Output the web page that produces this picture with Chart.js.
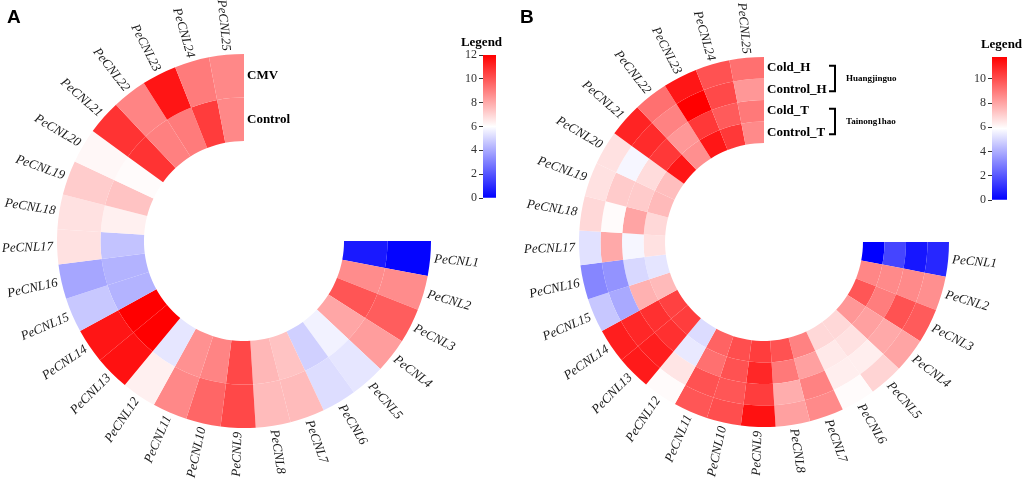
<!DOCTYPE html>
<html>
<head>
<meta charset="utf-8">
<script src="https://cdn.jsdelivr.net/npm/chart.js@4.4.1/dist/chart.umd.min.js"></script>
<style>
  html, body { margin: 0; padding: 0; background: #fff; }
  #wrap { position: relative; width: 1024px; height: 482px; overflow: hidden; }
  canvas { position: absolute; }
  .tag { position: absolute; font: bold 19px "Liberation Sans", Arial, sans-serif; color: #000; }
</style>
</head>
<body>
<div id="wrap">
  <canvas id="ringA" width="512" height="482" style="left:0;top:0;width:512px;height:482px"></canvas>
  <canvas id="ringB" width="512" height="482" style="left:512px;top:0;width:512px;height:482px"></canvas>
  <canvas id="barA" width="80" height="180" style="left:440px;top:30px;width:80px;height:180px"></canvas>
  <canvas id="barB" width="80" height="180" style="left:944px;top:30px;width:80px;height:180px"></canvas>
  <div class="tag" style="left:7px;top:6px">A</div>
  <div class="tag" style="left:520px;top:6px">B</div>
</div>
<script>
// genes around the ring, PeCNL1 at 3 o'clock going clockwise
const genes = ['PeCNL1', 'PeCNL2', 'PeCNL3', 'PeCNL4', 'PeCNL5', 'PeCNL6', 'PeCNL7', 'PeCNL8',
    'PeCNL9', 'PeCNL10', 'PeCNL11', 'PeCNL12', 'PeCNL13', 'PeCNL14', 'PeCNL15', 'PeCNL16',
    'PeCNL17', 'PeCNL18', 'PeCNL19', 'PeCNL20', 'PeCNL21', 'PeCNL22', 'PeCNL23', 'PeCNL24', 'PeCNL25'];

// panel A (outer ring first)
const cmv = [0.1, 8.7, 9.8, 8.3, 5.4, 5.2, 7.6, 7.6, 10.3, 9.6, 8.8, 6.35, 11.6,
    11.5, 4.7, 3.9, 6.7, 6.7, 7.2, 6.2, 10.8, 8.9, 11.5, 9.1, 8.8];
const controlA = [0.6, 8.7, 10.0, 8.1, 5.7, 4.9, 7.4, 7.7, 10.3, 8.9, 8.6, 5.4, 12.0,
    12.0, 4.2, 4.2, 4.6, 6.35, 7.4, 6.1, 10.8, 9.0, 9.1, 10.6, 8.8];

// panel B (outer ring first)
const coldH = [0.9, 8.5, 9.7, 8.0, 6.9, 6.0, 8.6, 8.1, 11.4, 10.0, 9.8, 6.0, 11.2,
    11.1, 4.6, 3.1, 5.2, 6.8, 6.6, 6.6, 11.0, 9.2, 11.3, 9.9, 9.2];
const controlH = [0.5, 8.6, 9.9, 7.9, 6.3, 6.3, 8.8, 7.8, 10.4, 9.8, 9.9, 6.5, 11.1,
    10.9, 3.9, 3.4, 7.9, 6.0, 7.1, 5.7, 10.8, 8.8, 11.8, 10.1, 8.3];
const coldT = [1.6, 8.6, 8.9, 8.1, 6.6, 6.4, 8.1, 9.0, 10.9, 9.9, 9.2, 5.4, 10.7,
    10.7, 7.7, 5.0, 5.7, 8.0, 7.1, 6.7, 10.5, 8.3, 10.5, 9.7, 9.0];
const controlT = [0.0, 8.7, 9.8, 8.3, 6.8, 6.8, 8.8, 9.9, 10.4, 10.0, 9.5, 5.1, 10.4,
    10.3, 7.5, 5.3, 6.6, 6.8, 7.5, 7.4, 11.3, 8.5, 11.3, 10.5, 8.6];

// colour ranges and legend ticks
const rangeA = [0, 12];
const rangeB = [0, 11.8];
const legendTicksA = [0, 2, 4, 6, 8, 10, 12];
const legendTicksB = [0, 2, 4, 6, 8, 10];

const SERIF = '"Liberation Serif", "Times New Roman", serif';

function heatColor(v, lo, hi) {
    const mid = (lo + hi) / 2;
    if (v <= mid) {
        const c = Math.round(255 * Math.max(0, (v - lo) / (mid - lo)));
        return 'rgb(' + c + ',' + c + ',255)';
    }
    const c = Math.round(255 * (1 - Math.min(1, (v - mid) / (hi - mid))));
    return 'rgb(255,' + c + ',' + c + ')';
}

const ringLabels = {
    id: 'ringLabels',
    afterDatasetsDraw(chart, args, opts) {
        const ctx = chart.ctx;
        const outer = chart.getDatasetMeta(0).data;
        ctx.save();
        ctx.fillStyle = '#1a1a1a';
        ctx.textBaseline = 'middle';
        ctx.font = 'italic 13px ' + SERIF;
        outer.forEach((arc, i) => {
            const a = (arc.startAngle + arc.endAngle) / 2;
            const r = arc.outerRadius + 4;
            ctx.save();
            ctx.translate(arc.x + r * Math.cos(a), arc.y + r * Math.sin(a));
            if (Math.cos(a) >= 0) {
                ctx.rotate(a);
                ctx.textAlign = 'left';
            } else {
                ctx.rotate(a + Math.PI);
                ctx.textAlign = 'right';
            }
            ctx.fillText(chart.data.labels[i], 0, 0);
            ctx.restore();
        });

        // series names next to the 12 o'clock end
        ctx.fillStyle = '#000';
        ctx.font = 'bold 13px ' + SERIF;
        ctx.textAlign = 'left';
        const mids = chart.data.datasets.map((ds, d) => {
            const last = chart.getDatasetMeta(d).data[genes.length - 1];
            const y = last.y - (last.innerRadius + last.outerRadius) / 2;
            ctx.fillText(ds.label, last.x + 3, y);
            return { x: last.x, y: y };
        });

        // group brackets
        (opts.groups || []).forEach(g => {
            const top = mids[g.from].y - 2;
            const bot = mids[g.to].y + 2;
            const x = mids[0].x + 71;
            ctx.strokeStyle = '#000';
            ctx.lineWidth = 2;
            ctx.beginPath();
            ctx.moveTo(x - 6, top);
            ctx.lineTo(x, top);
            ctx.lineTo(x, bot);
            ctx.lineTo(x - 6, bot);
            ctx.stroke();
            ctx.font = 'bold 9px ' + SERIF;
            ctx.fillText(g.text, x + 11, (top + bot) / 2);
        });
        ctx.restore();
    }
};

// "Legend" heading over the colour bar
const barTitle = {
    id: 'barTitle',
    afterDraw(chart, args, opts) {
        const area = chart.chartArea;
        const ctx = chart.ctx;
        ctx.save();
        ctx.font = 'bold 13px ' + SERIF;
        ctx.fillStyle = '#000';
        ctx.textAlign = 'center';
        ctx.textBaseline = 'middle';
        ctx.fillText(opts.text, (area.left + area.right) / 2 + opts.dx, area.top - 12);
        ctx.restore();
    }
};

function ringChart(id, series, names, range, padding, groups) {
    new Chart(document.getElementById(id), {
        type: 'doughnut',
        data: {
            labels: genes,
            datasets: series.map((vals, k) => ({
                label: names[k],
                data: vals.map(() => 1),
                values: vals,
                backgroundColor: vals.map(v => heatColor(v, range[0], range[1])),
                borderWidth: 0
            }))
        },
        options: {
            responsive: false,
            animation: false,
            events: [],
            rotation: 90,
            circumference: 270,
            cutout: '53.5%',
            layout: { padding: padding },
            plugins: {
                legend: { display: false },
                tooltip: { enabled: false },
                ringLabels: { groups: groups }
            }
        },
        plugins: [ringLabels]
    });
}

function legendBar(id, range, ticks, padding, dx) {
    new Chart(document.getElementById(id), {
        type: 'bar',
        data: {
            labels: [''],
            datasets: [{
                data: [range[1]],
                barPercentage: 1,
                categoryPercentage: 1,
                borderWidth: 0,
                backgroundColor: function (context) {
                    const chart = context.chart;
                    const y = chart.scales.y;
                    if (!chart.chartArea || !y) return '#fff';
                    const g = chart.ctx.createLinearGradient(0, y.getPixelForValue(range[0]), 0, y.getPixelForValue(range[1]));
                    g.addColorStop(0, 'rgb(0,0,255)');
                    g.addColorStop(0.5, 'rgb(255,255,255)');
                    g.addColorStop(1, 'rgb(255,0,0)');
                    return g;
                }
            }]
        },
        options: {
            responsive: false,
            animation: false,
            events: [],
            layout: { padding: padding },
            plugins: {
                legend: { display: false },
                tooltip: { enabled: false },
                barTitle: { text: 'Legend', dx: dx }
            },
            scales: {
                x: { display: false },
                y: {
                    min: range[0],
                    max: range[1],
                    position: 'left',
                    border: { display: false },
                    grid: { drawOnChartArea: false, drawTicks: true, tickLength: 4, color: '#333' },
                    ticks: {
                        color: '#333',
                        padding: 2,
                        font: { family: SERIF, size: 12 }
                    },
                    afterBuildTicks: function (scale) {
                        scale.ticks = ticks.map(v => ({ value: v }));
                    },
                    afterFit: function (scale) {
                        scale.width = 24;
                    }
                }
            }
        },
        plugins: [barTitle]
    });
}

document.addEventListener('DOMContentLoaded', function () {
    ringChart('ringA', [cmv, controlA], ['CMV', 'Control'], rangeA,
        { left: 57, right: 81, top: 54, bottom: 54 }, []);
    ringChart('ringB', [coldH, controlH, coldT, controlT], ['Cold_H', 'Control_H', 'Cold_T', 'Control_T'], rangeB,
        { left: 67, right: 75, top: 57, bottom: 55 },
        [{ text: 'Huangjinguo', from: 0, to: 1 }, { text: 'Tainong1hao', from: 2, to: 3 }]);

    legendBar('barA', rangeA, legendTicksA, { left: 19, right: 24, top: 25, bottom: 12 }, -8);
    legendBar('barB', rangeB, legendTicksB, { left: 24, right: 17, top: 27, bottom: 10 }, 2);
});
</script>
</body>
</html>
